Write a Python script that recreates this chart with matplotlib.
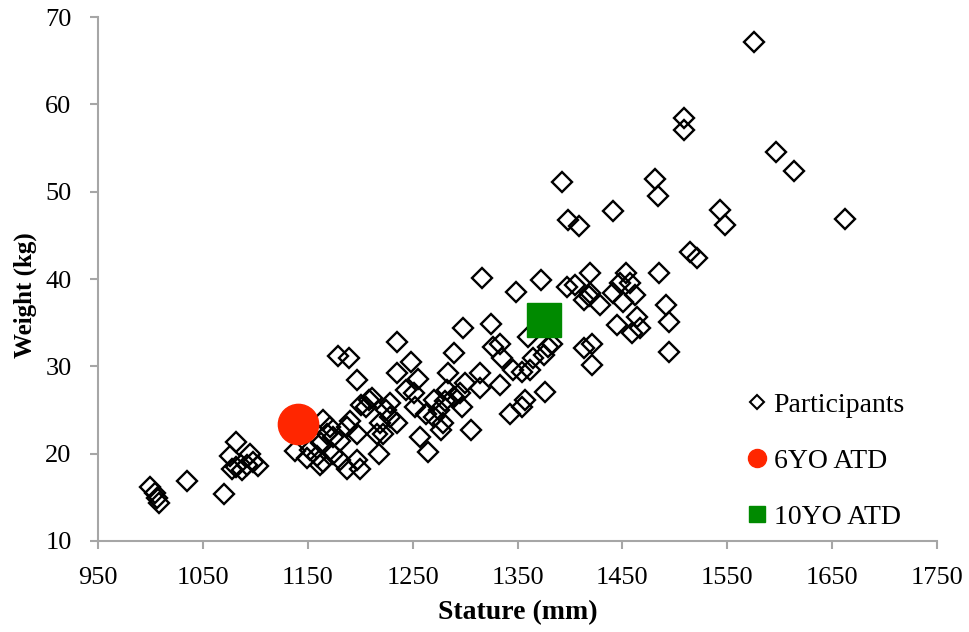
import matplotlib
matplotlib.use("Agg")
import matplotlib.pyplot as plt
from matplotlib.lines import Line2D

#  ############################# Data ###########################################

# participants: stature (mm) and weight (kg)
stature = [1000, 1004, 1006, 1008, 1035, 1070, 1082, 1076, 1078, 1082,
           1087, 1095, 1098, 1103, 1092, 1138, 1165, 1171, 1168, 1163,
           1174, 1181, 1187, 1190, 1197, 1201, 1152, 1159, 1165, 1174,
           1181, 1187, 1197, 1200, 1149, 1162, 1179, 1189, 1197, 1208,
           1206, 1211, 1218, 1225, 1228, 1222, 1235, 1235, 1235, 1248,
           1244, 1255, 1252, 1257, 1265, 1263, 1270, 1275, 1270, 1279,
           1281, 1284, 1289, 1289, 1295, 1297, 1300, 1298, 1306, 1314,
           1314, 1325, 1327, 1333, 1335, 1333, 1343, 1346, 1354, 1354,
           1357, 1316, 1349, 1372, 1360, 1365, 1375, 1379, 1383, 1376,
           1397, 1405, 1419, 1419, 1413, 1429, 1441, 1448, 1453, 1457,
           1462, 1451, 1445, 1464, 1467, 1459, 1413, 1421, 1421, 1485,
           1492, 1494, 1494, 1514, 1521, 1392, 1398, 1409, 1441, 1481,
           1484, 1543, 1548, 1418, 1575, 1509, 1509, 1596, 1614, 1662,
           1228, 1219, 1216, 1277, 1251, 1362, 1283]
weight = [16.2, 15.5, 14.9, 14.3, 16.9, 15.4, 21.3, 19.7, 18.3, 18.5,
          18.1, 20.0, 19.1, 18.6, 18.7, 20.3, 23.9, 23.1, 22.3, 21.2,
          21.9, 21.4, 23.1, 23.7, 22.3, 25.6, 20.4, 19.7, 19.1, 20.0,
          19.3, 18.3, 19.3, 18.3, 19.5, 18.7, 31.2, 31.0, 28.4, 26.1,
          25.4, 26.4, 20.0, 25.0, 24.2, 22.3, 23.5, 32.8, 29.2, 30.5,
          27.3, 28.6, 25.4, 21.9, 20.2, 24.6, 26.1, 25.0, 24.2, 23.5,
          26.0, 29.2, 31.5, 26.5, 26.9, 25.4, 28.1, 34.4, 22.7, 29.2,
          27.5, 34.9, 32.2, 32.6, 30.9, 27.9, 24.6, 29.6, 29.4, 25.4,
          26.1, 40.1, 38.5, 39.9, 33.4, 30.9, 31.3, 32.2, 32.6, 27.1,
          39.1, 39.3, 40.7, 38.4, 37.6, 37.0, 38.4, 39.5, 40.7, 39.5,
          38.2, 37.4, 34.7, 35.7, 34.4, 33.8, 32.1, 32.6, 30.2, 40.7,
          37.0, 35.1, 31.7, 43.1, 42.4, 51.1, 46.8, 46.1, 47.8, 51.5,
          49.5, 47.9, 46.2, 38.0, 67.2, 58.4, 57.1, 54.6, 52.4, 46.9,
          25.8, 23.5, 22.3, 22.7, 26.9, 29.6, 27.3]

# anthropomorphic test devices
atd6_stature, atd6_weight = [1141], [23.4]
atd10_stature, atd10_weight = [1375], [35.3]

labels = ['Participants', '6YO ATD', '10YO ATD']
x_ticks = list(range(950, 1751, 100))
y_ticks = list(range(10, 71, 10))

#  ############################# Plot parameters ##############################

plt.rcParams['font.family'] = ['Liberation Serif', 'DejaVu Serif']

RED = '#ff2600'
GREEN = '#008a00'
AXIS_GREY = '#a6a6a6'

#  ################################ Ploting ###################################

fig = plt.figure(figsize=(9.69, 6.32), dpi=100)
ax = fig.add_axes([0.1011, 0.144, 0.866, 0.829])

ax.plot(stature, weight, linestyle='none', marker='D', markersize=10,
        markerfacecolor='none', markeredgecolor='black',
        markeredgewidth=1.7, zorder=2)
ax.plot(atd6_stature, atd6_weight, linestyle='none', marker='o',
        markersize=29, color=RED, zorder=3)
ax.plot(atd10_stature, atd10_weight, linestyle='none', marker='s',
        markersize=24.5, color=GREEN, zorder=3)

ax.set_xlim(950, 1750)
ax.set_ylim(10, 70)
ax.set_xticks(x_ticks)
ax.set_yticks(y_ticks)

for side in ['top', 'right']:
    ax.spines[side].set_visible(False)
for side in ['left', 'bottom']:
    ax.spines[side].set_color(AXIS_GREY)
    ax.spines[side].set_linewidth(1.5)
ax.tick_params(axis='both', direction='out', length=6, width=1.5,
               color=AXIS_GREY, labelsize=19, pad=13)

ax.set_xlabel('Stature (mm)', fontsize=20, fontweight='bold', labelpad=8)
ax.set_ylabel('Weight (kg)', fontsize=18, fontweight='bold')
ax.yaxis.set_label_coords(-0.073, 0.47)

handles = [Line2D([], [], linestyle='none', marker='D', markersize=7,
                  markerfacecolor='none', markeredgecolor='black',
                  markeredgewidth=1.5),
           Line2D([], [], linestyle='none', marker='o', markersize=13,
                  color=RED),
           Line2D([], [], linestyle='none', marker='s', markersize=12,
                  color=GREEN)]
ax.legend(handles, labels, loc='upper left', bbox_to_anchor=(0.762, 0.305),
          frameon=False, fontsize=20, labelspacing=1.1, handlelength=0.6,
          handletextpad=0.3, borderaxespad=0)

plt.savefig("out.png", dpi=100)
